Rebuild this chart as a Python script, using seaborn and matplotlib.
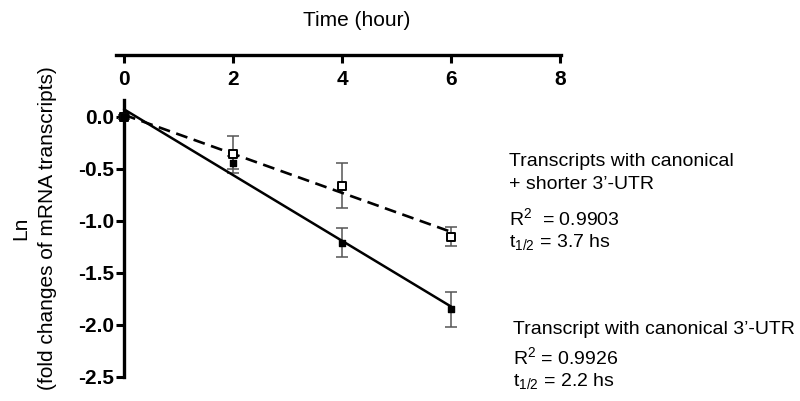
import numpy as np
import pandas as pd
import matplotlib
matplotlib.use("Agg")
import matplotlib.pyplot as plt
import seaborn as sns

# data
hours = [0, 2, 4, 6]
canonical_mean = [0.0, -0.44, -1.21, -1.85]
canonical_err = [0.02, 0.06, 0.14, 0.17]
shorter_mean = [0.0, -0.36, -0.66, -1.15]
shorter_err = [0.02, 0.18, 0.22, 0.09]

x_ticks = [0, 2, 4, 6, 8]
y_ticks = [0.0, -0.5, -1.0, -1.5, -2.0, -2.5]

sns.set_style("ticks")
plt.rcParams['font.family'] = ['Liberation Sans', 'DejaVu Sans']
plt.rcParams['mathtext.fontset'] = 'custom'
plt.rcParams['mathtext.rm'] = 'Liberation Sans'
plt.rcParams['mathtext.it'] = 'Liberation Sans:italic'
plt.rcParams['text.color'] = 'black'
plt.rcParams['xtick.color'] = 'black'
plt.rcParams['ytick.color'] = 'black'

df = pd.DataFrame({'hour': hours,
                   'canonical': canonical_mean, 'canonical_err': canonical_err,
                   'shorter': shorter_mean, 'shorter_err': shorter_err})

fig = plt.figure(figsize=(8, 4.01), dpi=100)
ax = fig.add_axes([0.1448, 0.06, 0.5565, 0.6908])

# error bars
ax.errorbar(df['hour'], df['shorter'], yerr=df['shorter_err'], fmt='none',
            ecolor='#555555', elinewidth=1.1, capsize=4, capthick=1.1, zorder=2)
ax.errorbar(df['hour'], df['canonical'], yerr=df['canonical_err'], fmt='none',
            ecolor='#555555', elinewidth=1.1, capsize=4, capthick=1.1, zorder=2)

# linear fits
sns.regplot(data=df, x='hour', y='canonical', ci=None, scatter=False, ax=ax,
            color='black', line_kws=dict(lw=1.8, zorder=3))
sns.regplot(data=df, x='hour', y='shorter', ci=None, scatter=False, ax=ax,
            color='black', line_kws=dict(lw=1.9, ls=(0, (4.5, 2.5)), zorder=3))

# markers
ax.scatter(df['hour'], df['shorter'], marker='s', s=26, facecolor='white',
           edgecolor='black', linewidth=1.4, zorder=4)
ax.scatter(df['hour'], df['canonical'], marker='s', s=14, color='black', zorder=5)

ax.set_xlabel("")
ax.set_ylabel("")

# x axis drawn above the plot, y axis at x = 0
ax.spines['top'].set_visible(False)
ax.spines['right'].set_visible(False)
ax.spines['bottom'].set_position(('axes', 1 + 45 / 277))
ax.spines['left'].set_position(('data', 0))
for s in ['bottom', 'left']:
    ax.spines[s].set_linewidth(2.4)
    ax.spines[s].set_color('black')

ax.set_xlim(-0.15, 8.02)
ax.set_ylim(-2.5, 0.163)
ax.set_xticks(x_ticks)
ax.set_yticks(y_ticks)
ax.set_xticklabels([str(t) for t in x_ticks])
ax.set_yticklabels([f"{t:.1f}" for t in y_ticks])
ax.tick_params(axis='x', direction='out', length=6, width=2.2, pad=5, labelsize=15)
ax.tick_params(axis='y', direction='out', length=6, width=2.2, pad=1, labelsize=15)
for lab in ax.get_xticklabels() + ax.get_yticklabels():
    lab.set_fontweight('bold')

fig.text(357 / 800, 1 - 20 / 401, "Time (hour)", ha='center', va='center', fontsize=15)
fig.text(34 / 800, 1 - 228 / 401, "Ln\n(fold changes of mRNA transcripts)",
         ha='center', va='center', rotation=90, fontsize=15, linespacing=1.5)

# annotations
txt = dict(fontsize=14, ha='left', va='center', transform=fig.transFigure)
fig.text(509 / 800, 1 - 161 / 401, "Transcripts with canonical", **txt)
fig.text(509 / 800, 1 - 184 / 401, "+ shorter 3’-UTR", **txt)
fig.text(509 / 800, 1 - 218 / 401, r"R$^{2}$  = 0.9903", **txt)
fig.text(509 / 800, 1 - 242 / 401, r"t$_{1/2}$ = 3.7 hs", **txt)
fig.text(513 / 800, 1 - 330 / 401, "Transcript with canonical 3’-UTR", **txt)
fig.text(513 / 800, 1 - 357 / 401, r"R$^{2}$ = 0.9926", **txt)
fig.text(513 / 800, 1 - 381 / 401, r"t$_{1/2}$ = 2.2 hs", **txt)

fig.savefig("out.png", dpi=100)
